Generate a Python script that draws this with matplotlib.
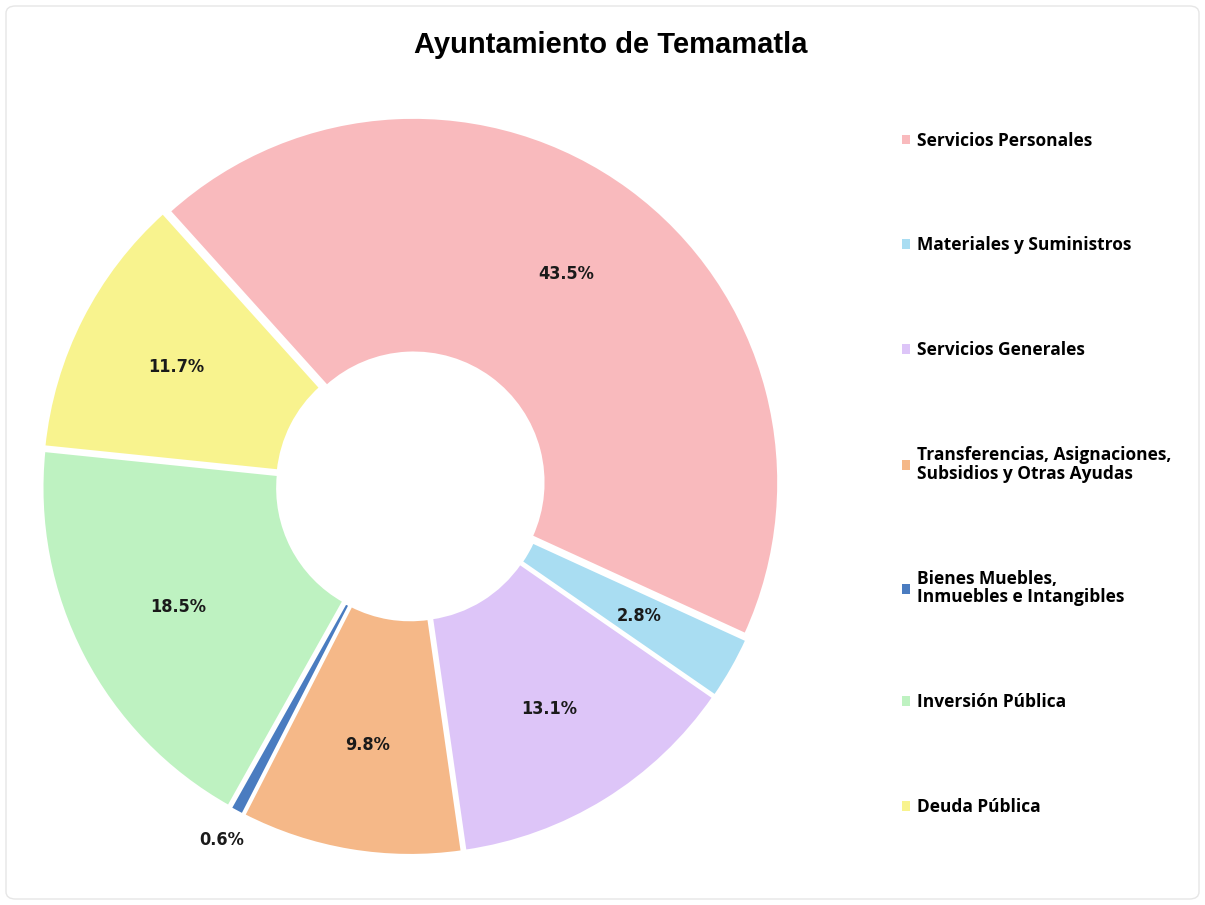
import matplotlib
matplotlib.use("Agg")
import matplotlib.pyplot as plt
from matplotlib.patches import FancyBboxPatch
import numpy as np

title = "Ayuntamiento de Temamatla"
categories = [
    "Servicios Personales",
    "Materiales y Suministros",
    "Servicios Generales",
    "Transferencias, Asignaciones,\nSubsidios y Otras Ayudas",
    "Bienes Muebles,\nInmuebles e Intangibles",
    "Inversión Pública",
    "Deuda Pública",
]
values = [43.5, 2.8, 13.1, 9.8, 0.6, 18.5, 11.7]
labels_pct = ["43.5%", "2.8%", "13.1%", "9.8%", "0.6%", "18.5%", "11.7%"]
colors = ["#F9BABD", "#A9DDF2", "#DDC5F8", "#F5B888", "#4A7CC0", "#BEF2C1", "#F8F38E"]

W, H = 1205, 905
fig = plt.figure(figsize=(W / 100, H / 100), dpi=100)
fig.patch.set_facecolor("white")

# faint chart border
fig.patches.append(FancyBboxPatch((6 / W, 6 / H), 1 - 12 / W, 1 - 12 / H,
                                  boxstyle="round,pad=0,rounding_size=0.008",
                                  transform=fig.transFigure, fill=False,
                                  edgecolor="#E6E6E6", linewidth=1.0))

cx, cy, R = 411, 486, 365
half = 400
ax = fig.add_axes([(cx - half) / W, (H - cy - half) / H, 2 * half / W, 2 * half / H])

explode = [0.012] * len(values)
wedges, _ = ax.pie(values, colors=colors, startangle=132, counterclock=False,
                   explode=explode, radius=1.0,
                   wedgeprops=dict(width=0.645, edgecolor="white", linewidth=2.0))

lim = half / R
ax.set_xlim(-lim, lim)
ax.set_ylim(-lim, lim)
ax.set_aspect("equal")
ax.axis("off")

total = sum(values)
for w, lab, v in zip(wedges, labels_pct, values):
    ang = np.deg2rad((w.theta1 + w.theta2) / 2)
    d = 1.1 if v / total < 0.015 else 0.72
    ax.text(d * np.cos(ang), d * np.sin(ang), lab, ha="center", va="center",
            fontsize=13, fontweight="bold", fontstretch="condensed",
            color="#1A1A1A", family="DejaVu Sans")

fig.text(0.507, 1 - 45 / H, title, ha="center", va="center",
         fontsize=21, fontweight="bold", family=["Liberation Sans", "DejaVu Sans"],
         color="#000000")

leg = fig.legend(wedges, categories, loc="upper left",
                 bbox_to_anchor=(886 / W, 1 - 116 / H),
                 frameon=False, handlelength=0.5, handleheight=0.5,
                 handletextpad=0.4, labelspacing=5.0,
                 prop=dict(family=["Open Sans", "DejaVu Sans"], weight="bold", size=12.5))
for t in leg.get_texts():
    t.set_linespacing(1.05)
for h in leg.legend_handles:
    h.set_edgecolor("none")

fig.savefig("out.png", dpi=100, facecolor="white")
